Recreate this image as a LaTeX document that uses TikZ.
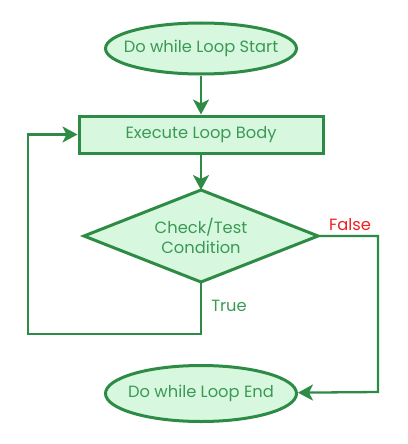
\documentclass[tikz,border=0pt]{standalone}
\usepackage{fontspec}
\setmainfont{Poppins}
\usetikzlibrary{arrows.meta,shapes.geometric}
\definecolor{gstroke}{HTML}{2E8B46}
\definecolor{gfill}{HTML}{D7F8DE}
\definecolor{gtext}{HTML}{3A9A55}
\definecolor{fred}{HTML}{F01E1E}
\tikzset{
  txtfont/.style={font=\fontsize{16.3}{20}\selectfont},
  term/.style={ellipse, draw=gstroke, fill=gfill, line width=3pt, minimum width=191pt, minimum height=51pt, inner sep=0pt},
  procbox/.style={rectangle, draw=gstroke, fill=gfill, line width=3pt, minimum width=244pt, minimum height=37pt, inner sep=0pt, text=gtext, txtfont},
  shapeline/.style={draw=gstroke, fill=gfill, line width=3pt, line join=miter},
  label/.style={text=gtext, txtfont, inner sep=0pt, align=center},
  conn/.style={draw=gstroke, line width=2.3pt, -{Stealth[length=15pt,width=16pt,inset=4pt]}},
}
\begin{document}
\begin{tikzpicture}[x=1pt,y=-1pt]
\useasboundingbox (0,0) rectangle (407,444);
\node[term] (start) at (201,48.5) {};
\node[label] (starttxt) at (201,48.5) {Do while Loop Start};
\node[procbox] (body) at (201,134.5) {Execute Loop Body};
\coordinate (cleft) at (84,236);
\coordinate (ctop) at (201,190);
\coordinate (cright) at (318,236);
\coordinate (cbot) at (201,282);
\path[shapeline] (cleft) -- (ctop) -- (cright) -- (cbot) -- cycle;
\node[label, font=\fontsize{16.3}{20.5}\selectfont] (cond) at (201,236) {Check/Test\\Condition};
\node[term, minimum height=56pt] (stop) at (201,393.5) {};
\node[label] (stoptxt) at (201,393.5) {Do while Loop End};
\coordinate (t1) at (201,334);
\coordinate (t2) at (28,334);
\coordinate (t3) at (28,134.5);
\coordinate (f1) at (378,236);
\coordinate (f2) at (378,392);
\draw[conn] (start) -- (body);
\draw[conn] (body) -- (ctop);
\draw[conn] (cbot) -- (t1) -- (t2) -- (t3) -- (body);
\draw[conn] (cright) -- (f1) -- (f2) -- (stop);
\node[label] (truel) at (229,306) {True};
\node[label, text=fred] (falsel) at (350,225) {False};
\end{tikzpicture}
\end{document}
